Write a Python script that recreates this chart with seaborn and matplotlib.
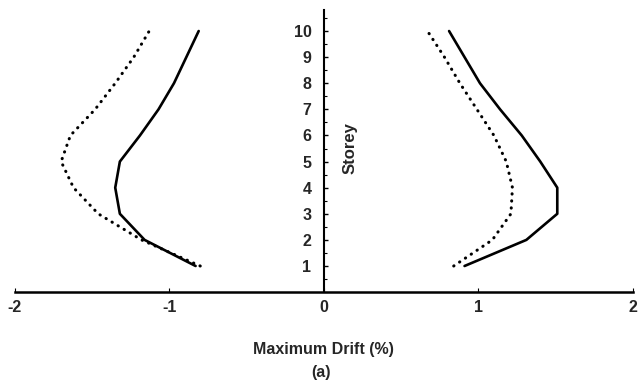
import matplotlib
matplotlib.use("Agg")
import matplotlib.pyplot as plt
import seaborn as sns
import pandas as pd
from matplotlib.ticker import MultipleLocator

storeys = [1, 2, 3, 4, 5, 6, 7, 8, 9, 10]
left_solid = [-0.83, -1.16, -1.32, -1.35, -1.32, -1.19, -1.07, -0.97, -0.89, -0.81]
left_dotted = [-0.80, -1.18, -1.46, -1.62, -1.70, -1.64, -1.48, -1.35, -1.23, -1.13]
right_solid = [0.91, 1.31, 1.51, 1.51, 1.40, 1.28, 1.14, 1.01, 0.91, 0.81]
right_dotted = [0.84, 1.09, 1.21, 1.22, 1.18, 1.10, 0.99, 0.88, 0.78, 0.67]
x_ticks = [-2, -1, 0, 1, 2]
y_ticks = [1, 2, 3, 4, 5, 6, 7, 8, 9, 10]

sns.set_theme(style="white")
plt.rcParams['font.family'] = ['Liberation Sans', 'DejaVu Sans']
plt.rcParams['font.weight'] = 'bold'

frames = []
for name, vals, style in [("ls", left_solid, "solid"), ("ld", left_dotted, "dotted"),
                          ("rs", right_solid, "solid"), ("rd", right_dotted, "dotted")]:
    frames.append(pd.DataFrame({"drift": vals, "storey": storeys, "curve": name, "kind": style}))
df = pd.concat(frames, ignore_index=True)

fig = plt.figure(figsize=(6.42, 3.9), dpi=100)
ax = fig.add_axes([0.023, 0.251, 0.963, 0.723])

for name, sub in df.groupby("curve"):
    if sub["kind"].iloc[0] == "solid":
        sns.lineplot(data=sub, x="drift", y="storey", sort=False, estimator=None,
                     color="black", lw=1.9, ax=ax)
    else:
        sns.lineplot(data=sub, x="drift", y="storey", sort=False, estimator=None,
                     color="black", lw=2.2, ax=ax, linestyle=(0, (0.1, 2.2)),
                     dash_capstyle="round")

ax.set_xlim(-2, 2)
ax.set_ylim(0, 10.8)
for s in ["top", "right"]:
    ax.spines[s].set_visible(False)
ax.spines["left"].set_position(("data", 0))
ax.spines["left"].set_color("black")
ax.spines["left"].set_linewidth(1.5)
ax.spines["bottom"].set_color("black")
ax.spines["bottom"].set_linewidth(1.8)

fs = 11.5
ax.set_xticks(x_ticks)
ax.set_xticklabels([str(v) for v in x_ticks], fontsize=fs, fontweight="bold")
ax.set_yticks(y_ticks)
ax.set_yticklabels([str(v) for v in y_ticks], fontsize=fs, fontweight="bold")
ax.yaxis.set_minor_locator(MultipleLocator(0.5))
ax.tick_params(axis="y", which="both", left=True, right=False)
ax.tick_params(axis="y", which="major", direction="in", length=3, width=1.0, color="black", pad=9)
ax.tick_params(axis="y", which="minor", direction="in", length=2, width=0.8, color="black")
ax.tick_params(axis="x", which="major", bottom=True, direction="in", length=3, width=0.8,
               color="black", pad=6)

ax.set_xlabel("Maximum Drift (%)", fontsize=fs, fontweight="bold", labelpad=19)
ax.set_ylabel("")
ax.text(0.17, 5.5, "Storey", rotation=90, fontsize=12, fontweight="bold",
        ha="center", va="center")
fig.text(0.5, 0.044, "(a)", ha="center", va="center", fontsize=fs, fontweight="bold")

fig.savefig("out.png", dpi=100)
